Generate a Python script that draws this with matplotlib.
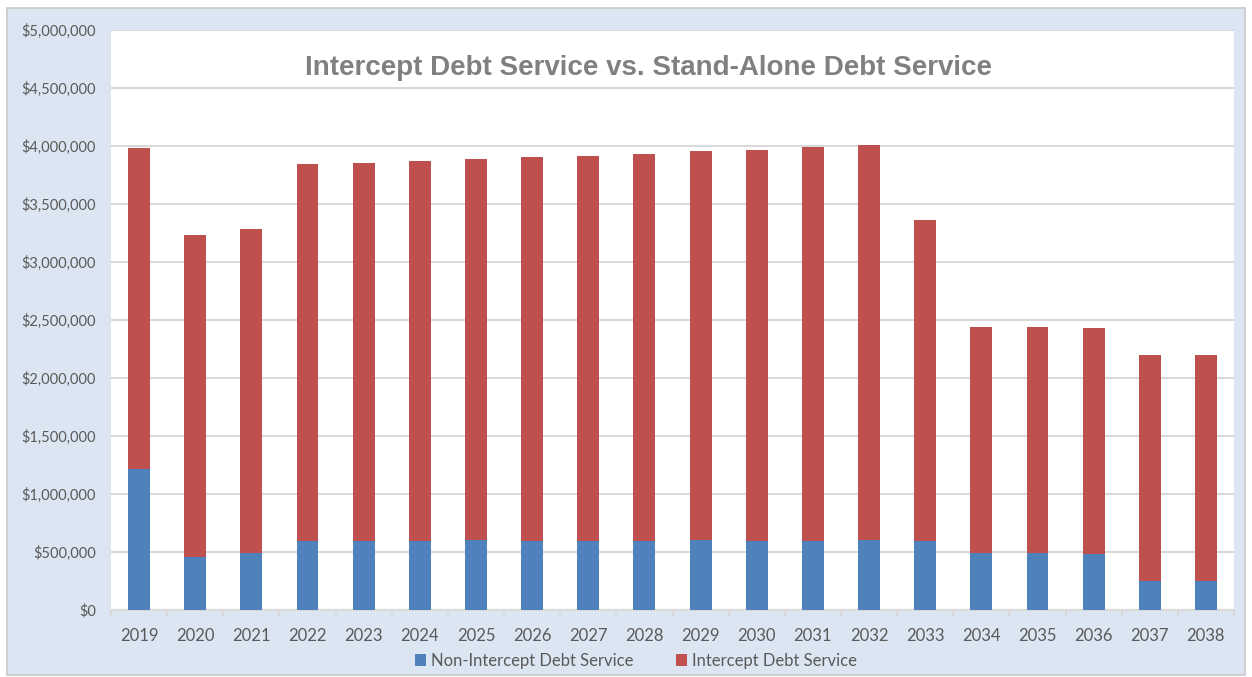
import matplotlib.pyplot as plt
from matplotlib.patches import Rectangle
from matplotlib.ticker import FuncFormatter

years = [str(y) for y in range(2019, 2039)]
non_intercept = [1215000, 455000, 490000, 592000, 595000, 595000, 600000, 595000,
                 595000, 595000, 600000, 595000, 595000, 600000, 595000, 490000,
                 490000, 482000, 252000, 252000]
total_service = [3980000, 3235000, 3285000, 3843000, 3853000, 3868000, 3885000,
                 3902000, 3914000, 3932000, 3956000, 3962000, 3988000, 4008000,
                 3360000, 2438000, 2438000, 2428000, 2200000, 2202000]
intercept = [t - n for t, n in zip(total_service, non_intercept)]

BLUE = '#4f81bd'
RED = '#c0504d'
GRAY_TXT = '#595959'
GRID = '#d9d9d9'
BG = '#dce6f2'

plt.rcParams['font.family'] = ['Lato', 'DejaVu Sans']

fig = plt.figure(figsize=(12.52, 6.77), dpi=100, facecolor='white')
# light blue chart area with thin border
fig.patches.append(Rectangle((7 / 1252, 2 / 677), 1238 / 1252, 667 / 677,
                             transform=fig.transFigure, facecolor=BG,
                             edgecolor='#c8c8c8', linewidth=1.2, zorder=-1))

ax = fig.add_axes([111 / 1252, 1 - 610 / 677, 1123 / 1252, 580 / 677])
ax.set_facecolor('white')

x = range(len(years))
ax.bar(x, non_intercept, width=0.39, color=BLUE, label='Non-Intercept Debt Service', zorder=3)
ax.bar(x, intercept, width=0.39, bottom=non_intercept, color=RED,
       label='Intercept Debt Service', zorder=3)

ax.set_xlim(-0.5, len(years) - 0.5)
ax.set_ylim(0, 5000000)
ax.set_yticks(range(0, 5000001, 500000))
ax.yaxis.set_major_formatter(FuncFormatter(lambda v, p: '${:,.0f}'.format(v)))
ax.set_xticks(list(x))
ax.set_xticklabels(years)
ax.set_xticks([i - 0.5 for i in range(len(years) + 1)], minor=True)

ax.grid(axis='y', color=GRID, linewidth=1.5, zorder=0)
for s in ['top', 'right', 'left']:
    ax.spines[s].set_visible(False)
ax.spines['bottom'].set_color(GRID)
ax.spines['bottom'].set_linewidth(1.5)

ax.tick_params(axis='y', length=0, labelsize=10.5, labelcolor=GRAY_TXT, pad=11)
ax.tick_params(axis='x', which='major', length=0, labelsize=12, labelcolor=GRAY_TXT, pad=13)
ax.tick_params(axis='x', which='minor', length=5, width=1.5, color=GRID)

ax.text(0.479, 0.935, 'Intercept Debt Service vs. Stand-Alone Debt Service',
        transform=ax.transAxes, ha='center', va='center', fontsize=20,
        fontweight='bold', color='#808080', family=['Liberation Sans', 'DejaVu Sans'])

fig.legend(loc='center', bbox_to_anchor=(0.508, 1 - 661 / 677), ncol=2, frameon=False,
           fontsize=12, labelcolor=GRAY_TXT, handlelength=0.7, handleheight=0.7,
           handletextpad=0.3, columnspacing=2.5)

fig.savefig('out.png', dpi=100, facecolor='white')
